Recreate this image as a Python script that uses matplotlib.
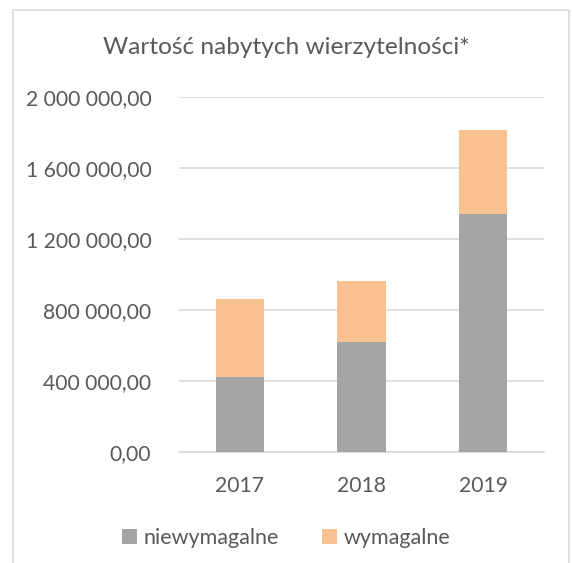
import matplotlib.pyplot as plt
from matplotlib.patches import Rectangle
from matplotlib.ticker import FuncFormatter

plt.rcParams['font.family'] = ['Lato', 'DejaVu Sans']

years = ['2017', '2018', '2019']
niewymagalne = [423000, 617000, 1338000]
wymagalne = [440000, 345000, 477000]

gray = '#A5A5A5'
orange = '#F8C18F'
txt = '#595959'

fig = plt.figure(figsize=(5.72, 5.63), dpi=100)
ax = fig.add_axes([0.313, 0.197, 0.638, 0.631])

x = range(len(years))
ax.bar(x, niewymagalne, width=0.4, color=gray, label='niewymagalne', zorder=3)
ax.bar(x, wymagalne, width=0.4, bottom=niewymagalne, color=orange,
       label='wymagalne', zorder=3)

ax.set_xlim(-0.5, 2.5)
ax.set_ylim(0, 2000000)
ax.set_yticks(range(0, 2000001, 400000))

def fmt(v, pos):
    s = f"{v:,.2f}".replace(',', ' ').replace('.', ',')
    return s

ax.yaxis.set_major_formatter(FuncFormatter(fmt))
ax.set_xticks(list(x))
ax.set_xticklabels(years)
ax.tick_params(axis='both', length=0, labelsize=15.2, colors=txt)
ax.tick_params(axis='y', pad=20)
ax.tick_params(axis='x', pad=17)
ax.grid(axis='y', color='#D9D9D9', linewidth=1.2, zorder=0)
for s in ['top', 'right', 'left']:
    ax.spines[s].set_visible(False)
ax.spines['bottom'].set_color('#D9D9D9')
ax.spines['bottom'].set_linewidth(1.2)

fig.text(0.5, 1 - 47 / 563, 'Wartość nabytych wierzytelności*', ha='center',
         va='center', fontsize=17.6, color=txt)

fig.legend(loc='center', bbox_to_anchor=(0.5, 1 - 538 / 563), ncol=2,
           frameon=False, fontsize=15.5, labelcolor=txt, handlelength=0.7,
           handleheight=0.7, handletextpad=0.3, columnspacing=2.0)

fig.patches.append(Rectangle((13 / 572, -0.1), 556 / 572, 1.1 - 10 / 563,
                             transform=fig.transFigure, fill=False,
                             edgecolor='#D9D9D9', linewidth=1.2))

fig.savefig('out.png', dpi=100)
